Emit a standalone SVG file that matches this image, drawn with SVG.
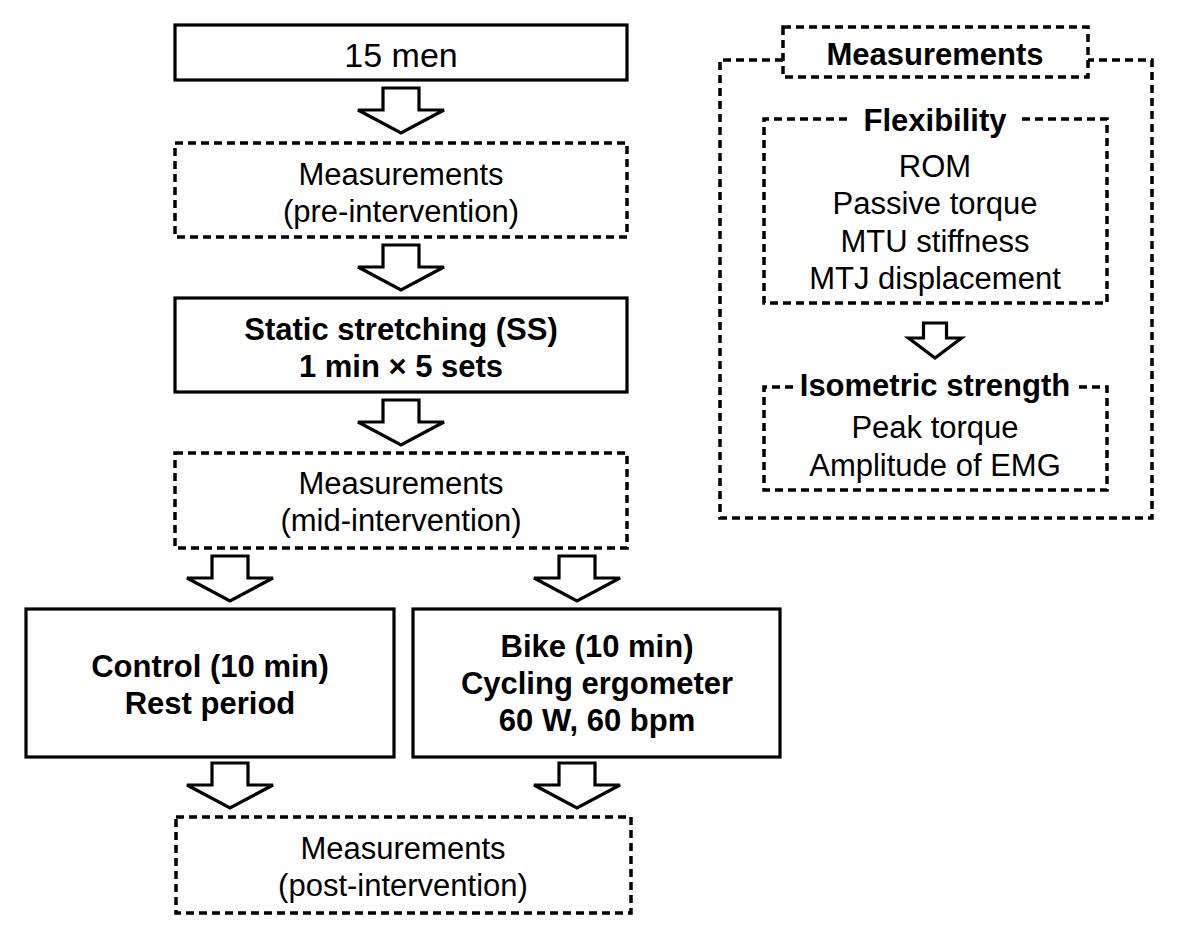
<svg xmlns="http://www.w3.org/2000/svg" width="1181" height="942" viewBox="0 0 1181 942">
<style>
.solid{fill:#fff;stroke:#000;stroke-width:3.2}
.dash{fill:#fff;stroke:#000;stroke-width:3.5;stroke-dasharray:8 5}
.dl{fill:none;stroke:#000;stroke-width:3.5;stroke-dasharray:8 5}
.arr{fill:#fff;stroke:#000;stroke-width:3.2;stroke-linejoin:miter}
text{font-family:"Liberation Sans",Arial,sans-serif;fill:#000;text-anchor:middle}
.r{font-size:31px}
.b{font-size:31px;font-weight:bold}
.big{font-size:34px}
</style>
<defs>
<path id="bigArrow" d="M-18,0 H18 V22 H43 L0,45 L-43,22 H-18 Z"/>
<path id="smallArrow" d="M-11.5,0 H11.5 V15 H26.5 L0,35 L-26.5,15 H-11.5 Z"/>
</defs>
<rect width="1181" height="942" fill="#fff"/>

<g id="connectors">
<use href="#bigArrow" class="arr" x="401" y="88"/>
<use href="#bigArrow" class="arr" x="401" y="245"/>
<use href="#bigArrow" class="arr" x="401" y="400"/>
<use href="#bigArrow" class="arr" x="230" y="556"/>
<use href="#bigArrow" class="arr" x="577" y="556"/>
<use href="#bigArrow" class="arr" x="230" y="763"/>
<use href="#bigArrow" class="arr" x="577" y="763"/>
<use href="#smallArrow" class="arr" x="935" y="323"/>
</g>

<g id="n-men">
<rect class="solid" x="175" y="25" width="452" height="55"/>
<text class="big" x="401" y="67">15 men</text>
</g>

<g id="n-pre">
<rect class="dash" x="175" y="143" width="452" height="94"/>
<text class="r" x="401" y="185">Measurements</text>
<text class="r" x="401" y="222">(pre-intervention)</text>
</g>

<g id="n-ss">
<rect class="solid" x="175" y="298" width="452" height="94"/>
<text class="b" x="401" y="340">Static stretching (SS)</text>
<text class="b" x="401" y="377">1 min × 5 sets</text>
</g>

<g id="n-mid">
<rect class="dash" x="175" y="453" width="452" height="95"/>
<text class="r" x="401" y="494">Measurements</text>
<text class="r" x="401" y="531">(mid-intervention)</text>
</g>

<g id="n-control">
<rect class="solid" x="26" y="609" width="368" height="148"/>
<text class="b" x="210" y="677">Control (10 min)</text>
<text class="b" x="210" y="714">Rest period</text>
</g>

<g id="n-bike">
<rect class="solid" x="413" y="609" width="367" height="148"/>
<text class="b" x="597" y="657">Bike (10 min)</text>
<text class="b" x="597" y="694">Cycling ergometer</text>
<text class="b" x="597" y="731">60 W, 60 bpm</text>
</g>

<g id="n-post">
<rect class="dash" x="176" y="817" width="455" height="96"/>
<text class="r" x="403" y="859">Measurements</text>
<text class="r" x="403" y="896">(post-intervention)</text>
</g>

<g id="n-measurements">
<path class="dl" d="M783,60 H720 V518 H1152 V60 H1088"/>
<rect class="dash" x="783" y="27" width="305" height="50"/>
<text class="b" x="935" y="65">Measurements</text>
</g>

<g id="n-flexibility">
<path class="dl" d="M847,119 H764 V303 H1107 V119 H1018"/>
<text class="b" x="935" y="131">Flexibility</text>
<text class="r" x="935" y="177">ROM</text>
<text class="r" x="935" y="214">Passive torque</text>
<text class="r" x="935" y="252">MTU stiffness</text>
<text class="r" x="935" y="289">MTJ displacement</text>
</g>

<g id="n-isometric">
<path class="dl" d="M793,387 H764 V490 H1107 V387 H1078"/>
<text class="b" x="935" y="396">Isometric strength</text>
<text class="r" x="935" y="438">Peak torque</text>
<text class="r" x="935" y="476">Amplitude of EMG</text>
</g>
</svg>
